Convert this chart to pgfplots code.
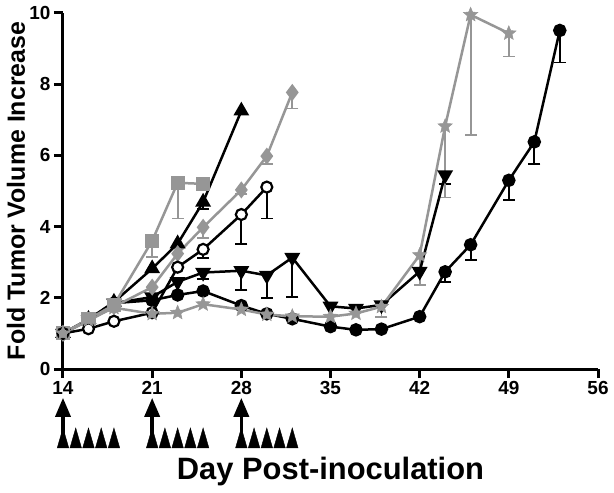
\documentclass[border=0pt]{standalone}
\usepackage{fontspec}
\setmainfont{Liberation Sans}
\usepackage{pgfplots}
\pgfplotsset{compat=1.18}
\usetikzlibrary{arrows.meta}
\definecolor{gr}{RGB}{150,150,150}
\pgfdeclareplotmark{fstar}{%
 \pgfpathmoveto{\pgfpointpolar{90}{\pgfplotmarksize}}%
 \pgfpathlineto{\pgfpointpolar{126}{0.45\pgfplotmarksize}}%
 \pgfpathlineto{\pgfpointpolar{162}{\pgfplotmarksize}}%
 \pgfpathlineto{\pgfpointpolar{198}{0.45\pgfplotmarksize}}%
 \pgfpathlineto{\pgfpointpolar{234}{\pgfplotmarksize}}%
 \pgfpathlineto{\pgfpointpolar{270}{0.45\pgfplotmarksize}}%
 \pgfpathlineto{\pgfpointpolar{306}{\pgfplotmarksize}}%
 \pgfpathlineto{\pgfpointpolar{342}{0.45\pgfplotmarksize}}%
 \pgfpathlineto{\pgfpointpolar{18}{\pgfplotmarksize}}%
 \pgfpathlineto{\pgfpointpolar{54}{0.45\pgfplotmarksize}}%
 \pgfpathclose\pgfusepathqfillstroke}
\begin{document}
\begin{tikzpicture}
\useasboundingbox (-63bp,-124bp) rectangle (551bp,369bp);
\begin{axis}[
 at={(0,0)}, anchor=south west,
 scale only axis, width=535bp, height=356bp,
 xmin=14, xmax=56, ymin=0, ymax=10,
 xtick={14,21,...,56}, ytick={0,2,...,10},
 axis lines=left, axis line style={-, line width=3bp},
 tick align=outside, major tick length=9bp, tick style={line width=3bp, black},
 clip=false,
 /pgf/number format/assume math mode=true,
 ticklabel style={font=\bfseries\fontsize{19}{19}\selectfont},
 xlabel={Day Post-inoculation}, ylabel={Fold Tumor Volume Increase},
 xlabel style={font=\bfseries\fontsize{31}{31}\selectfont, at={(axis description cs:0.5,-0.309)}, anchor=base},
 ylabel style={font=\bfseries\fontsize{25}{25}\selectfont, at={(axis description cs:-0.0879,0.5)}, anchor=center},
 ebg/.style={forget plot, only marks, mark=none, error bars/.cd, y dir=minus, y explicit, error bar style={gr, line width=1.8bp}, error mark options={gr, rotate=90, line width=1.8bp, mark size=6bp}},
 ebk/.style={forget plot, only marks, mark=none, error bars/.cd, y dir=minus, y explicit, error bar style={black, line width=1.8bp}, error mark options={black, rotate=90, line width=1.8bp, mark size=6bp}},
]
% error bars (lower only)
\addplot[ebg] table[x=x,y=y,y error=e] {
x y e
21 3.60 0.45
23 5.23 1.00
25 5.20 0.10
};
\addplot[ebk] table[x=x,y=y,y error=e] {
x y e
25 4.69 0.20
};
\addplot[ebg] table[x=x,y=y,y error=e] {
x y e
25 3.98 0.29
28 5.03 0.12
30 5.98 0.23
32 7.77 0.45
};
\addplot[ebk] table[x=x,y=y,y error=e] {
x y e
25 3.36 0.25
28 4.34 0.84
30 5.11 0.88
};
\addplot[ebk] table[x=x,y=y,y error=e] {
x y e
25 2.71 0.18
28 2.76 0.53
30 2.63 0.63
32 3.13 1.10
44 5.45 0.25
};
\addplot[ebk] table[x=x,y=y,y error=e] {
x y e
44 2.73 0.29
46 3.49 0.42
49 5.30 0.56
51 6.38 0.63
53 9.51 0.90
};
\addplot[ebg] table[x=x,y=y,y error=e] {
x y e
39 1.75 0.29
42 3.20 0.85
44 6.82 2.00
46 9.95 3.38
49 9.43 0.65
};
% filled circle
\addplot[black, line width=2.5bp, mark=*, mark size=5.5bp, mark options={solid, fill=black}] coordinates {
(14,1)(16,1.38)(18,1.85)(21,1.93)(23,2.08)(25,2.19)(28,1.78)(30,1.55)(32,1.41)(35,1.19)(37,1.10)(39,1.12)(42,1.47)(44,2.73)(46,3.49)(49,5.30)(51,6.38)(53,9.51)};
% triangle down
\addplot[black, line width=2.5bp, mark=triangle*, mark size=6.7bp, mark options={solid, fill=black, rotate=180}] coordinates {
(14,1)(16,1.38)(18,1.85)(21,2.02)(23,2.45)(25,2.71)(28,2.76)(30,2.63)(32,3.13)(35,1.76)(37,1.70)(39,1.80)(42,2.74)(44,5.45)};
% triangle up
\addplot[black, line width=2.5bp, mark=triangle*, mark size=6.7bp, mark options={solid, fill=black}] coordinates {
(14,1)(16,1.40)(18,1.88)(21,2.82)(23,3.52)(25,4.69)(28,7.25)};
% gray square
\addplot[gr, line width=2.5bp, mark=square*, mark size=5.8bp, mark options={solid, fill=gr}] coordinates {
(14,1)(16,1.40)(18,1.80)(21,3.60)(23,5.23)(25,5.20)};
% gray diamond
\addplot[gr, line width=2.5bp, mark=diamond*, mark size=6.5bp, mark options={solid, fill=gr}] coordinates {
(14,1)(16,1.35)(18,1.75)(21,2.30)(23,3.24)(25,3.98)(28,5.03)(30,5.98)(32,7.77)};
% open circle
\addplot[black, line width=2.5bp, mark=*, mark size=5.5bp, mark options={solid, fill=white, line width=2.2bp}] coordinates {
(14,1)(16,1.13)(18,1.34)(21,1.58)(23,2.86)(25,3.36)(28,4.34)(30,5.11)};
% gray star
\addplot[gr, line width=2.5bp, mark=fstar, mark size=7.5bp, mark options={solid, fill=gr, line width=0.5bp}] coordinates {
(14,1)(16,1.38)(18,1.72)(21,1.55)(23,1.58)(25,1.82)(28,1.67)(30,1.53)(32,1.48)(35,1.47)(37,1.56)(39,1.75)(42,3.20)(44,6.82)(46,9.95)(49,9.43)};
% treatment schedule
\addplot[forget plot, only marks, black, mark=triangle*, mark size=13.3bp, mark options={xscale=0.5, fill=black}] coordinates {
(14,-2.03)(15,-2.03)(16,-2.03)(17,-2.03)(18,-2.03)
(21,-2.03)(22,-2.03)(23,-2.03)(24,-2.03)(25,-2.03)
(28,-2.03)(29,-2.03)(30,-2.03)(31,-2.03)(32,-2.03)};
\addplot[forget plot, black, line width=3.5bp, -{Triangle[width=15bp,length=19bp]}] coordinates {(14,-2.2)(14,-0.81)};
\addplot[forget plot, black, line width=3.5bp, -{Triangle[width=15bp,length=19bp]}] coordinates {(21,-2.2)(21,-0.81)};
\addplot[forget plot, black, line width=3.5bp, -{Triangle[width=15bp,length=19bp]}] coordinates {(28,-2.2)(28,-0.81)};
\end{axis}
\end{tikzpicture}
\end{document}
